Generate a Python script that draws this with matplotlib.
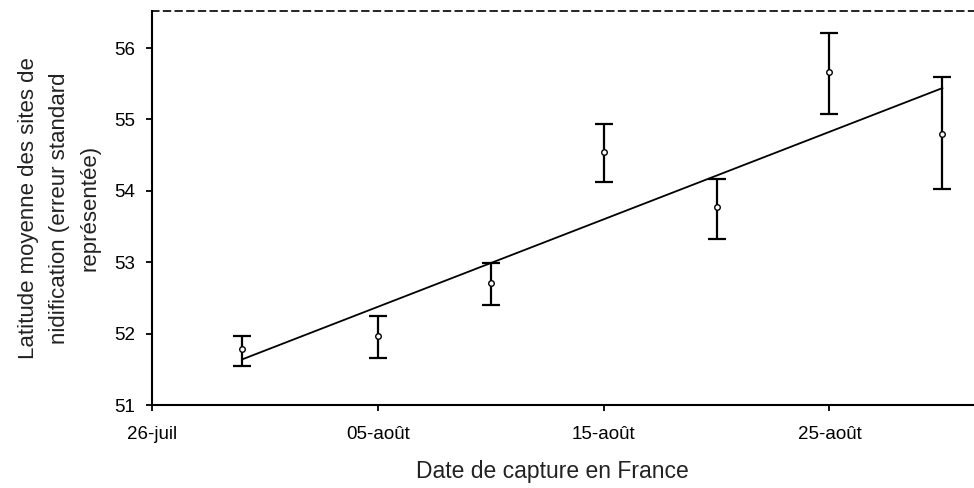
import matplotlib
matplotlib.use("Agg")
import matplotlib.pyplot as plt
from matplotlib.transforms import Bbox, TransformedBbox

plt.rcParams['font.family'] = ['Liberation Sans', 'DejaVu Sans']

# Data (days counted from 26-juil)
point_dates = ["30-juil", "05-août", "10-août", "15-août", "20-août", "25-août", "30-août"]
point_days = [4, 10, 15, 20, 25, 30, 35]
lat_mean = [51.78, 51.96, 52.71, 54.55, 53.77, 55.67, 54.80]
lat_upper = [51.97, 52.25, 52.99, 54.94, 54.17, 56.21, 55.60]
lat_lower = [51.54, 51.66, 52.40, 54.13, 53.33, 55.07, 54.03]

trend_days = [4, 35]
trend_lat = [51.64, 55.44]

tick_days = [0, 10, 20, 30]
tick_labels = ["26-juil", "05-août", "15-août", "25-août"]
y_ticks = [51, 52, 53, 54, 55, 56]

fig = plt.figure(figsize=(9.74, 4.88), dpi=100)
ax = fig.add_axes([152/974, 1 - 405/488, 1 - 152/974, (405 - 11)/488])

err_low = [m - l for m, l in zip(lat_mean, lat_lower)]
err_high = [u - m for m, u in zip(lat_mean, lat_upper)]

ax.plot(trend_days, trend_lat, color='black', lw=1.3, zorder=2)
ax.errorbar(point_days, lat_mean, yerr=[err_low, err_high], fmt='none',
            ecolor='black', elinewidth=1.6, capsize=6.2, capthick=1.6, zorder=3)
ax.plot(point_days, lat_mean, 'o', ms=4, mfc='white', mec='black', mew=1.0, zorder=4)

ax.set_xlim(0, 36.4)
ax.set_ylim(51, 56.52)
ax.set_xticks(tick_days)
ax.set_xticklabels(tick_labels)
ax.set_yticks(y_ticks)

for s in ['left', 'bottom']:
    ax.spines[s].set_linewidth(1.5)
    ax.spines[s].set_color('black')
ax.spines['right'].set_visible(False)
ax.spines['top'].set_linestyle((0, (4, 3)))
ax.spines['top'].set_linewidth(1.2)

ax.tick_params(axis='both', direction='out', length=4, width=1.3, labelsize=13.5, colors='black')
ax.tick_params(axis='y', pad=8)
ax.tick_params(axis='x', pad=11)

ax.set_xlabel("Date de capture en France", fontsize=16.5, color='#222222')
ax.xaxis.set_label_coords((552 - 152) / 822, -(478 - 405) / 394)
ax.xaxis.label.set_va('baseline')
yl = ax.set_ylabel("Latitude moyenne des sites de\nnidification (erreur standard\nreprésentée)",
                   fontsize=16, labelpad=10, linespacing=1.6, color='#222222')
clip = TransformedBbox(Bbox([[0, 0], [1, 1 - 50/488]]), fig.transFigure)
yl.set_clip_box(clip)
yl.set_clip_on(True)

fig.savefig("out.png", dpi=100)
